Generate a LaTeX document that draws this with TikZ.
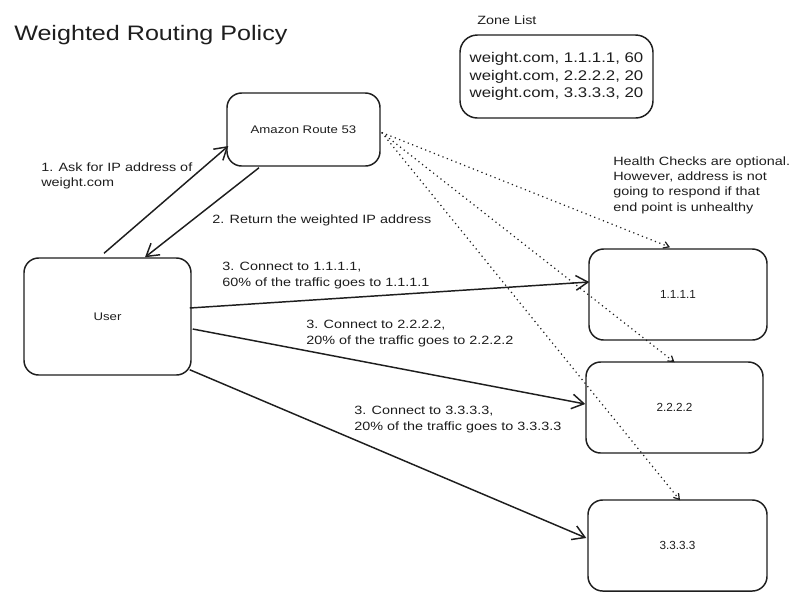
\documentclass[tikz,border=0pt]{standalone}
\usepackage{fontspec}
\setmainfont[FakeStretch=1.2]{Liberation Sans}
\newfontfamily\plainsans{Liberation Sans}
\usetikzlibrary{arrows.meta,calc}
\definecolor{ink}{HTML}{1E1E1E}
\tikzset{
  box/.style={draw=ink, line width=1.1pt, rounded corners=11pt, inner sep=0pt, text=ink},
  lbl/.style={inner sep=0pt, anchor=west, align=left, text=ink, font=\fontsize{9}{12}\selectfont},
  flow/.style={draw=ink, line width=1.1pt, -{Straight Barb[length=9pt,width=11pt]}},
  hc/.style={draw=ink, line width=0.9pt, dash pattern=on 0.9pt off 2.6pt, -{Straight Barb[length=4pt,width=5pt]}}
}
\begin{document}
\begin{tikzpicture}[x=0.75pt,y=-0.75pt]
\useasboundingbox[fill=white] (0,0) rectangle (805,608);

\node[lbl, font=\fontsize{15.7}{18}\selectfont] (title) at (14,35) {Weighted Routing Policy};

\node[lbl] (zl) at (477,20) {Zone List};
\node[box, rounded corners=13pt, minimum width=144.75pt, minimum height=62.25pt, align=left,
      font=\fontsize{10.5}{13}\selectfont] (zone) at (556.5,76.5)
  {weight.com, 1.1.1.1, 60\\weight.com, 2.2.2.2, 20\\weight.com, 3.3.3.3, 20};

\node[box, minimum width=114.75pt, minimum height=54.75pt, font=\fontsize{8.25}{10}\selectfont] (r53) at (303.5,129.5) {Amazon Route 53};
\node[box, minimum width=125.25pt, minimum height=87.75pt, font=\fontsize{8.25}{10}\selectfont] (user) at (107.5,316.5) {User};
\node[box, minimum width=133.5pt, minimum height=68.25pt, font=\plainsans\fontsize{8.8}{10}\selectfont] (b1) at (678,294.5) {1.1.1.1};
\node[box, minimum width=132.75pt, minimum height=68.25pt, font=\plainsans\fontsize{8.8}{10}\selectfont] (b2) at (674.5,407.5) {2.2.2.2};
\node[box, minimum width=134.25pt, minimum height=68.25pt, font=\plainsans\fontsize{8.8}{10}\selectfont] (b3) at (677.5,545.5) {3.3.3.3};

\node[lbl, font=\fontsize{9}{11.25}\selectfont] (l1) at (41,175.5) {1. Ask for IP address of\\weight.com};
\node[lbl] (l2) at (212,220) {2. Return the weighted IP address};
\node[lbl] (l3a) at (222,276) {3. Connect to 1.1.1.1,\\60\% of the traffic goes to 1.1.1.1};
\node[lbl] (l3b) at (306,334) {3. Connect to 2.2.2.2,\\20\% of the traffic goes to 2.2.2.2};
\node[lbl] (l3c) at (354,420) {3. Connect to 3.3.3.3,\\20\% of the traffic goes to 3.3.3.3};
\node[lbl, font=\fontsize{9}{11.5}\selectfont] (hcn) at (613,185) {Health Checks are optional.\\However, address is not\\going to respond if that\\end point is unhealthy};

\draw[flow] ($(user.north)+(-3.5,-4)$) -- ($(r53.west)+(2,16.5)$);
\draw[flow] ($(r53.south)+(-44.5,1)$) -- ($(user.north)+(37.5,0)$);
\draw[flow] ($(user.east)+(-2,-8.5)$) -- ($(b1.west)+(1,-12.5)$);
\draw[flow] ($(user.east)+(1,12.5)$) -- ($(b2.west)+(0,-3.5)$);
\draw[flow] ($(user.south east)+(-2,-6)$) -- ($(b3.west)+(-1,-7.5)$);

\draw[hc] ($(r53.east)+(1,3)$) -- ($(b1.north)+(-8,-1)$);
\draw[hc] ($(r53.east)+(1,3)$) -- ($(b2.north)+(0,1)$);
\draw[hc] ($(r53.east)+(1,3)$) -- ($(b3.north)+(2.5,1)$);
\end{tikzpicture}
\end{document}
